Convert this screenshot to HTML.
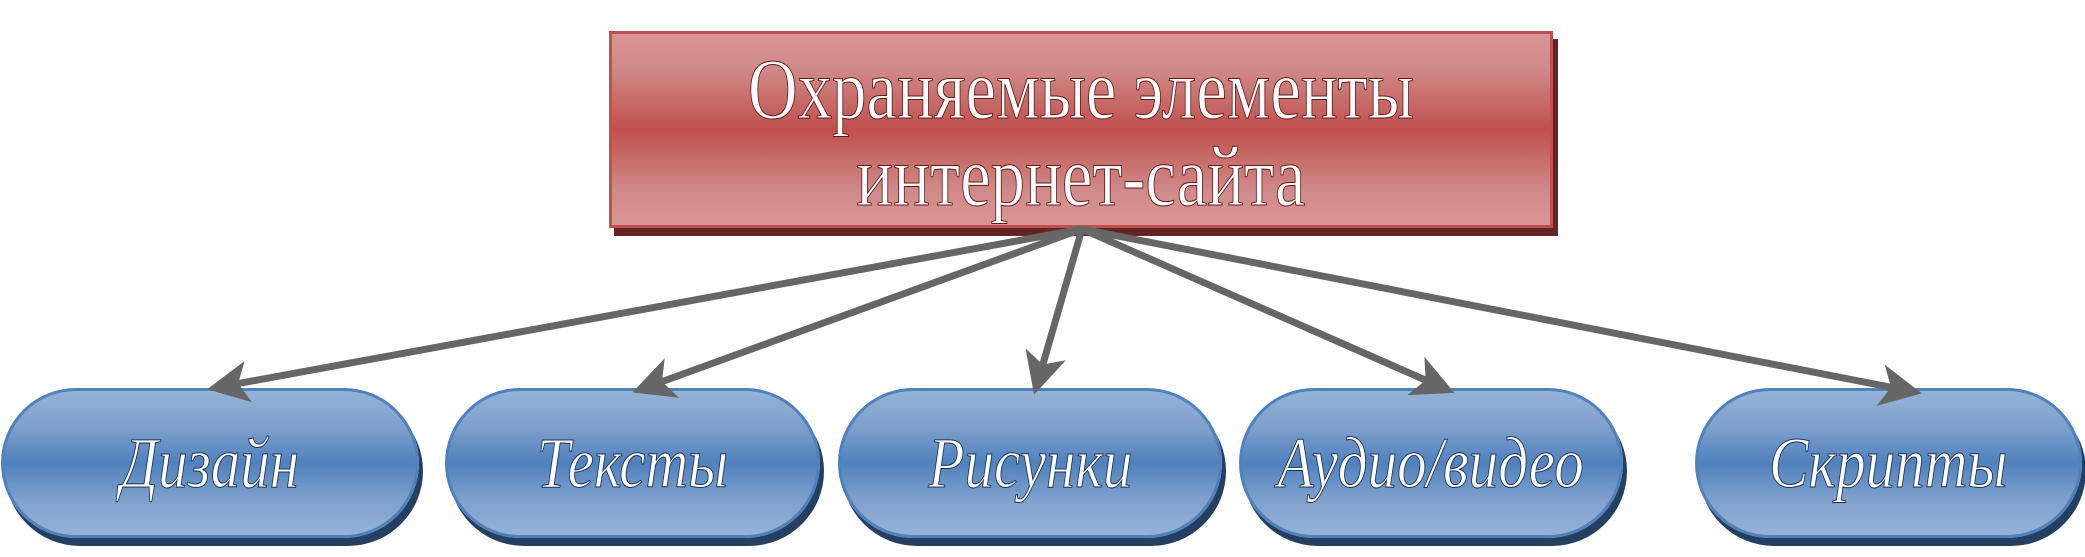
<!DOCTYPE html>
<html><head><meta charset="utf-8"><style>
body{margin:0;width:2085px;height:557px;background:#fff;position:relative;overflow:hidden;font-family:"Liberation Serif",serif}
.red{position:absolute;left:609px;top:31px;width:944px;height:197px;border:3px solid #c0504d;box-sizing:border-box;
background:linear-gradient(#d99594 0%,#d08a89 18%,#c0504d 50%,#d08a89 82%,#d99594 100%);box-shadow:5px 8px 0 #632523;}
.red div{position:absolute;left:0;width:100%;text-align:center;color:#fff;font-size:86px;line-height:86px;
-webkit-text-stroke:1px #5a1a18;transform:scaleX(0.8);white-space:nowrap}
.b{position:absolute;top:388px;height:150px;box-sizing:border-box;border:3px solid #4f81bd;border-radius:75px/75px;
background:linear-gradient(#95b3d7 0%,#7ea0cd 25%,#4f81bd 50%,#7ea0cd 75%,#95b3d7 100%);box-shadow:4px 8px 0 #243f60;
text-align:center;line-height:144px;white-space:nowrap;overflow:visible}
.b span{display:inline-block;color:#fff;font-style:italic;font-size:72px;-webkit-text-stroke:1px #1d2f4a;transform:scaleX(0.82);white-space:nowrap}
svg{position:absolute;left:0;top:0}
</style></head><body>
<div class="red"><div style="top:12px">Охраняемые элементы</div><div style="top:99px">интернет-сайта</div></div>
<div class="b" style="left:1px;width:418px"><span>Дизайн</span></div>
<div class="b" style="left:445px;width:375px"><span>Тексты</span></div>
<div class="b" style="left:838px;width:384px"><span>Рисунки</span></div>
<div class="b" style="left:1239px;width:384px"><span style="margin:0 -60px">Аудио/видео</span></div>
<div class="b" style="left:1695px;width:387px"><span>Скрипты</span></div>
<svg width="2085" height="557">
<defs><marker id="a" markerWidth="6" markerHeight="6" refX="5" refY="3" orient="auto" markerUnits="strokeWidth">
<path d="M0,0 L6,3 L0,6 L1.5,3 Z" fill="#666"/></marker></defs>
<g stroke="#666" stroke-width="7" fill="none" marker-end="url(#a)">
<line x1="1082" y1="229" x2="214" y2="388"/>
<line x1="1082" y1="229" x2="639" y2="390"/>
<line x1="1082" y1="229" x2="1036" y2="388"/>
<line x1="1082" y1="229" x2="1448" y2="390"/>
<line x1="1082" y1="229" x2="1915" y2="392"/>
</g></svg>
</body></html>
